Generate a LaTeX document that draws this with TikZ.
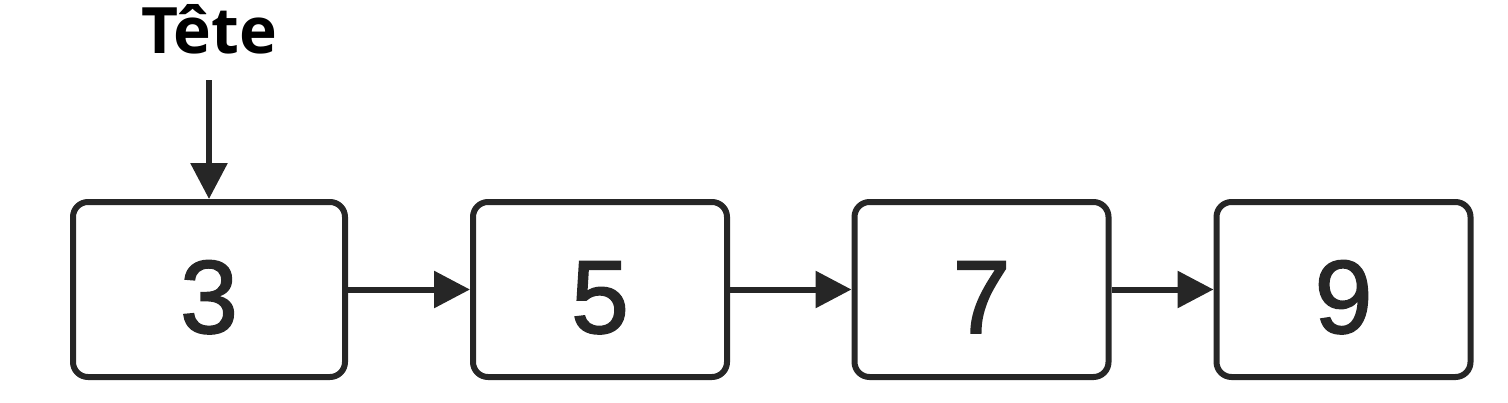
\documentclass[tikz,border=0pt]{standalone}
\usepackage{fontspec}
\setmainfont{Liberation Sans}
\newfontfamily\headfont{Open Sans}
\newfontfamily\digitfont[FakeBold=1.6]{Liberation Sans}
\usetikzlibrary{arrows.meta}
\tikzset{
  cell/.style={draw=black!85, line width=3pt, rounded corners=7.5pt,
    minimum width=127pt, minimum height=87.5pt, inner sep=0pt,
    text height=43.5pt, text depth=0pt, text=black!85,
    font=\digitfont\fontsize{52}{60}\selectfont},
  link/.style={draw=black!85, line width=3pt, -{Triangle[length=18pt,width=18pt]}}
}
\begin{document}
\begin{tikzpicture}[x=0.5pt,y=-0.5pt]
  \useasboundingbox (0,0) rectangle (1508,402);
  % la liste
  \node[cell, minimum width=136pt] (b3) at (209,289.5) {3};
  \node[cell] (b5) at (600,289.5) {5};
  \node[cell] (b7) at (981.5,289.5) {7};
  \node[cell] (b9) at (1343.5,289.5) {9};
  % tete
  \node[font=\headfont\bfseries\fontsize{32}{38}\selectfont, anchor=base, inner sep=0pt] (tete) at (209,53) {Tête};
  \coordinate (tetebas) at (209,80);
  \draw[link] (tetebas) -- (b3.north);
  \draw[link] (b3) -- (b5);
  \draw[link] (b5) -- (b7);
  \draw[link] (b7) -- (b9);
\end{tikzpicture}
\end{document}
